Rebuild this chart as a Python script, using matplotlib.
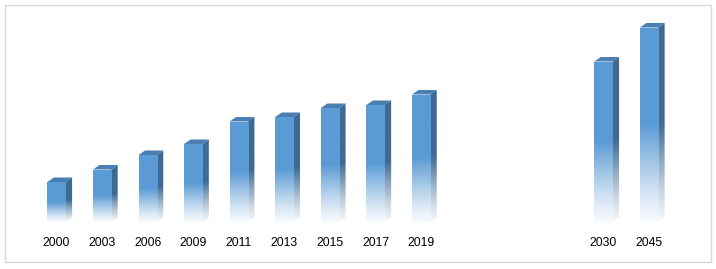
import numpy as np
import matplotlib
matplotlib.use("Agg")
import matplotlib.pyplot as plt
from matplotlib.patches import Polygon, Rectangle
from matplotlib.colors import to_rgb

# ---- data ----
years = ["2000", "2003", "2006", "2009", "2011", "2013", "2015", "2017", "2019", "2030", "2045"]
slots = [0, 1, 2, 3, 4, 5, 6, 7, 8, 12, 13]
values = [40, 52.5, 67, 78, 100.5, 105, 114, 117, 127.5, 160.5, 194.5]

front_col = to_rgb("#5B9BD5")
side_col = to_rgb("#3E6A93")
top_col = to_rgb("#4B7EB2")

W, H = 716, 269
fig = plt.figure(figsize=(W / 100, H / 100), dpi=100)
fig.patch.set_facecolor("white")

# outer frame
frame = Rectangle((5 / W, 7 / H), 706 / W, 257 / H, transform=fig.transFigure,
                  fill=False, edgecolor="#D9D9D9", linewidth=1.0)
fig.patches.append(frame)

left_px = 33.7
slot_px = 45.58
ax = fig.add_axes([left_px / W, 47 / H, 14 * slot_px / W, 200 / H])
ax.set_xlim(-0.5, 13.5)
ax.set_ylim(0, 200)
ax.axis("off")

bw = 0.40
bars = ax.bar(slots, values, width=bw, color="none", edgecolor="none")

# depth in data units from display scale
inv = ax.transData.inverted()
p0 = inv.transform(ax.transData.transform((0, 0)))
p1 = inv.transform(ax.transData.transform((0, 0)) + np.array([6.5, 4.5]))
ddx, ddy = p1 - p0


def grad_image(col, n=200):
    # t=0 bottom -> t=1 top ; top half solid, bottom half fades to white
    t = np.linspace(0, 1, n)
    a = np.clip(t / 0.5, 0, 1)
    a = a ** 1.2
    a = 0.05 + 0.95 * a
    img = np.zeros((n, 1, 3))
    for i in range(3):
        img[:, 0, i] = 1 - a * (1 - col[i])
    return img[::-1]


front_img = grad_image(front_col)
side_img = grad_image(side_col)

for rect, v, label in zip(bars, values, years):
    x0 = rect.get_x()
    x1 = x0 + rect.get_width()
    # side face
    side = Polygon([(x1, 0), (x1 + ddx, ddy), (x1 + ddx, v + ddy), (x1, v)],
                   closed=True, facecolor="none", edgecolor="none")
    ax.add_patch(side)
    im = ax.imshow(side_img, extent=(x1, x1 + ddx, 0, v + ddy), aspect="auto",
                   interpolation="bilinear", zorder=2)
    im.set_clip_path(side)
    # front face
    fr = Rectangle((x0, 0), x1 - x0, v, facecolor="none", edgecolor="none")
    ax.add_patch(fr)
    im2 = ax.imshow(front_img, extent=(x0, x1, 0, v), aspect="auto",
                    interpolation="bilinear", zorder=3)
    im2.set_clip_path(fr)
    # top face
    top = Polygon([(x0, v), (x0 + ddx, v + ddy), (x1 + ddx, v + ddy), (x1, v)],
                  closed=True, facecolor=top_col, edgecolor="none", zorder=4)
    ax.add_patch(top)
    ax.text(x0 + (x1 - x0) / 2, -20.5, label,
            ha="center", va="center", fontsize=8.8, family="Liberation Sans", color="#000000")

ax.set_xlim(-0.5, 13.5)
ax.set_ylim(0, 200)
fig.savefig("out.png", dpi=100, facecolor="white")
